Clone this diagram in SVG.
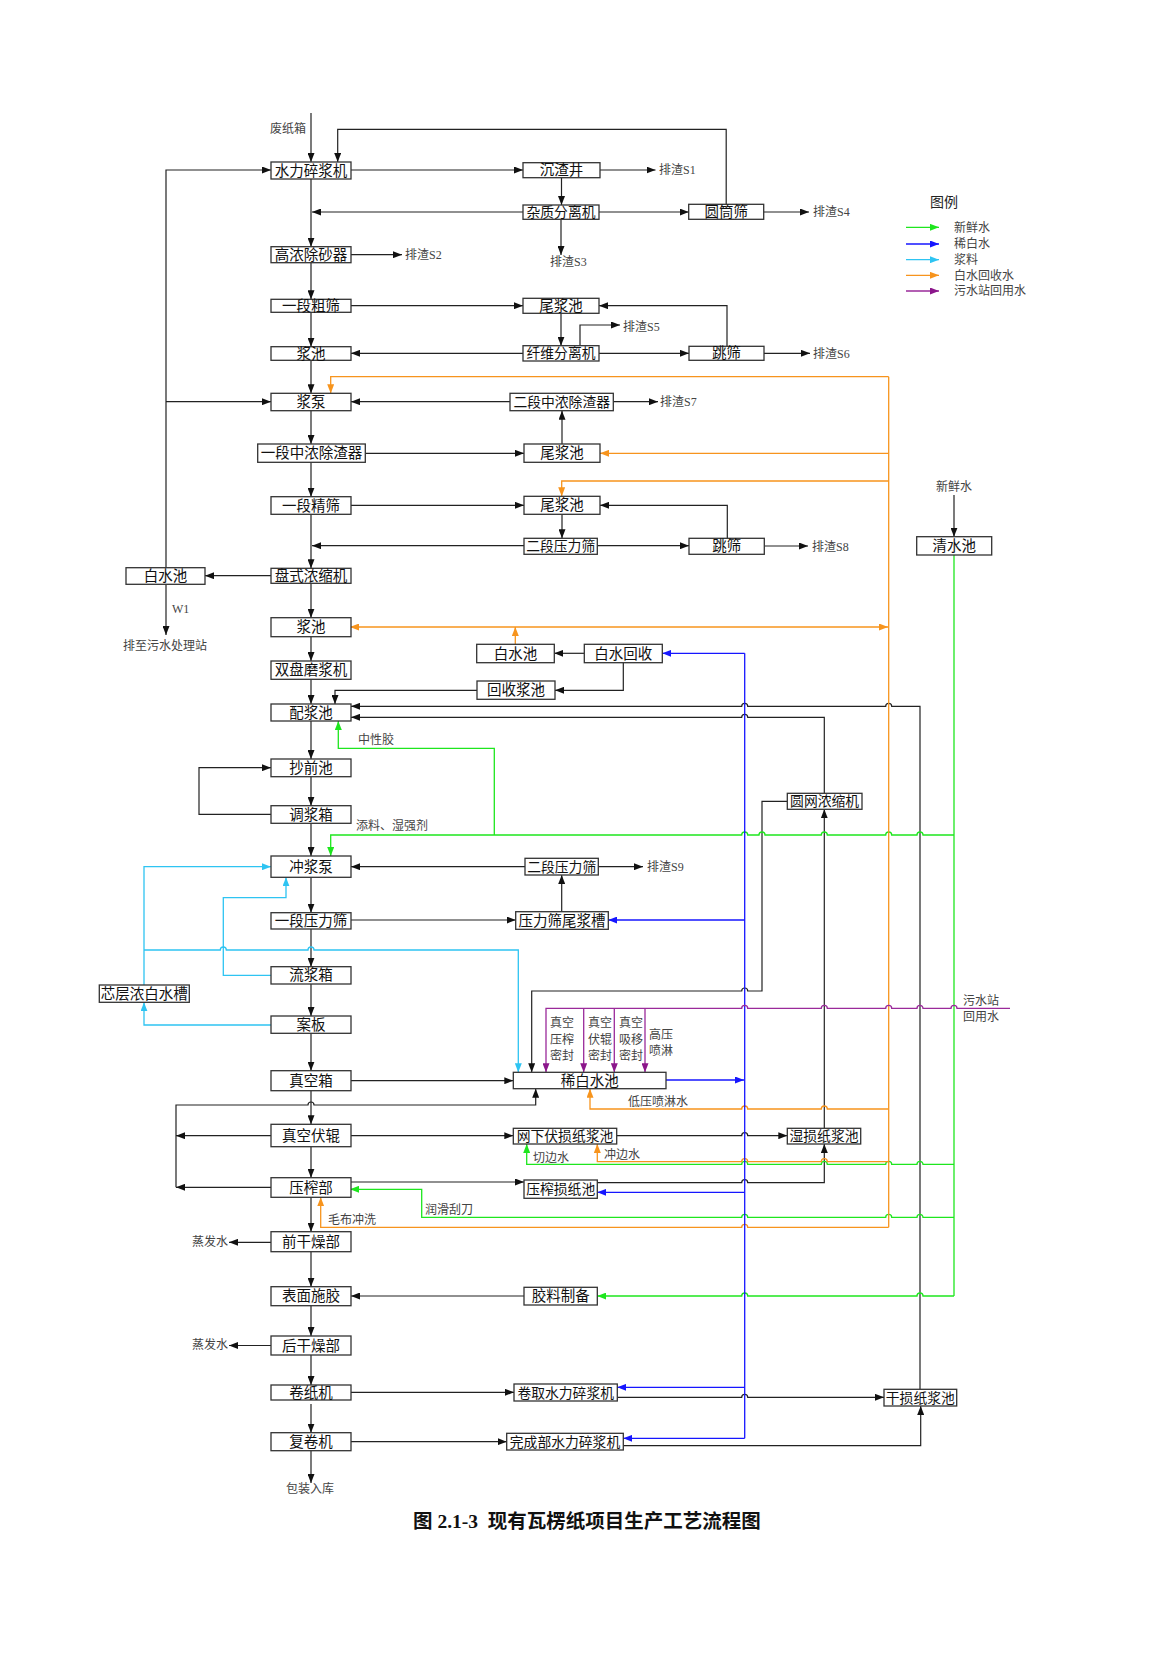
<svg xmlns="http://www.w3.org/2000/svg" width="1169" height="1653" viewBox="0 0 1169 1653">
<style>
.bx{fill:#fff;stroke:#333;stroke-width:1.3}
.t{font-family:"Liberation Serif","Noto Sans CJK SC",serif;font-size:14.5px;fill:#111;text-anchor:middle}
.s{font-size:13.8px}
.l{font-family:"Liberation Serif","Noto Sans CJK SC",serif;font-size:12px;fill:#444}
.k{fill:none;stroke:#222;stroke-width:1.2}
.g{fill:none;stroke:#1ee61e;stroke-width:1.3}
.b{fill:none;stroke:#1616ff;stroke-width:1.3}
.c{fill:none;stroke:#2ec4f2;stroke-width:1.3}
.o{fill:none;stroke:#f7941d;stroke-width:1.3}
.p{fill:none;stroke:#9a2a9a;stroke-width:1.3}
</style>
<defs>
<marker id="ak" viewBox="0 0 9 7" refX="9" refY="3.5" markerWidth="9" markerHeight="7" markerUnits="userSpaceOnUse" orient="auto-start-reverse"><path d="M0,0L9,3.5L0,7z" fill="#111"/></marker>
<marker id="ag" viewBox="0 0 9 7" refX="9" refY="3.5" markerWidth="9" markerHeight="7" markerUnits="userSpaceOnUse" orient="auto-start-reverse"><path d="M0,0L9,3.5L0,7z" fill="#1ee61e"/></marker>
<marker id="ab" viewBox="0 0 9 7" refX="9" refY="3.5" markerWidth="9" markerHeight="7" markerUnits="userSpaceOnUse" orient="auto-start-reverse"><path d="M0,0L9,3.5L0,7z" fill="#1616ff"/></marker>
<marker id="ac" viewBox="0 0 9 7" refX="9" refY="3.5" markerWidth="9" markerHeight="7" markerUnits="userSpaceOnUse" orient="auto-start-reverse"><path d="M0,0L9,3.5L0,7z" fill="#2ec4f2"/></marker>
<marker id="ao" viewBox="0 0 9 7" refX="9" refY="3.5" markerWidth="9" markerHeight="7" markerUnits="userSpaceOnUse" orient="auto-start-reverse"><path d="M0,0L9,3.5L0,7z" fill="#f7941d"/></marker>
<marker id="ap" viewBox="0 0 9 7" refX="9" refY="3.5" markerWidth="9" markerHeight="7" markerUnits="userSpaceOnUse" orient="auto-start-reverse"><path d="M0,0L9,3.5L0,7z" fill="#8b168b"/></marker>
</defs>
<rect width="1169" height="1653" fill="#fff"/>

<g id="connectors">
<g class="k" marker-end="url(#ak)">
<path d="M311,113V162"/><path d="M311,179V246.7"/><path d="M311,262.7V299.3"/><path d="M311,312.3V346.7"/>
<path d="M311,360.3V393.3"/><path d="M311,410.7V444"/><path d="M311,462.3V496.7"/><path d="M311,514.3V568.3"/>
<path d="M311,583.3V617.7"/><path d="M311,636.7V661"/><path d="M311,679.3V704"/><path d="M311,721V759"/>
<path d="M311,776.7V805.7"/><path d="M311,823.3V856"/><path d="M311,877.3V912.7"/><path d="M311,929V966.7"/>
<path d="M311,984V1016"/><path d="M311,1033.3V1070.7"/><path d="M311,1090.7V1124.3"/><path d="M311,1146.7V1177.7"/>
<path d="M311,1197.3V1231.7"/><path d="M311,1251.7V1286.7"/><path d="M311,1305.7V1336"/><path d="M311,1355V1385"/>
<path d="M311,1404V1432.7"/><path d="M311,1450.7V1483"/>
<path d="M726.2,204.3V129.3H337.7V162"/>
<path d="M351,170H523"/>
<path d="M600,170H655.5"/>
<path d="M561.5,177.7V205"/>
<path d="M523,212H312"/>
<path d="M599,212H688.7"/>
<path d="M763.7,212H809"/>
<path d="M561,219.3V255"/>
<path d="M351,254.7H402"/>
<path d="M351,305.7H523"/>
<path d="M727,346.3V305.7H599"/>
<path d="M561,313.3V345.7"/>
<path d="M580,345.7V325H620"/>
<path d="M523,353.3H351"/>
<path d="M599,353.3H689"/>
<path d="M764,353.3H810"/>
<path d="M510,401.7H351"/>
<path d="M613.3,401.7H658"/>
<path d="M365.3,453.3H524"/>
<path d="M562,444V410.7"/>
<path d="M351,505.3H524"/>
<path d="M727.3,538.3V505.3H600"/>
<path d="M562,514.3V538.3"/>
<path d="M524,545.7H312"/>
<path d="M597.3,545.7H689"/>
<path d="M764.3,546H808"/>
<path d="M271,575.7H205"/>
<path d="M166,567.7V170H271"/>
<path d="M166,401.7H271"/>
<path d="M166,584.3V635"/>
<path d="M954,495V536.7"/>
<path d="M584.3,653.3H554.3"/>
<path d="M623.3,662.7V690.3H555"/>
<path d="M477,690.3H335V704"/>
<path d="M920,1389.3V706.3H891.7A3,3 0 0 0 885.7,706.3H747.7A3,3 0 0 0 741.7,706.3H351"/>
<path d="M824.3,793.3V717.3H747.7A3,3 0 0 0 741.7,717.3H351"/>
<path d="M271,814.3H199V767.7H271"/>
<path d="M525,866.7H351"/>
<path d="M598.3,866.7H643"/>
<path d="M561.7,911.7V875"/>
<path d="M351,920H515.7"/>
<path d="M787.3,801.3H762V991H747.7A3,3 0 0 0 741.7,991H531.7V1072.3"/>
<path d="M824.3,1128.3V809.3"/>
<path d="M351,1080.7H513.3"/>
<path d="M271,1135.7H176"/>
<path d="M271,1187.3H176"/>
<path d="M176,1187.3V1105H308A3,3 0 0 1 314,1105H535.7V1088.7"/>
<path d="M351,1135.7H513.3"/>
<path d="M616.7,1135.7H741.7A3,3 0 0 1 747.7,1135.7H787.3"/>
<path d="M351,1182H524"/>
<path d="M597.3,1182.7H741.7A3,3 0 0 1 747.7,1182.7H824.3V1144"/>
<path d="M271,1242.3H229"/>
<path d="M524,1296H351"/>
<path d="M271,1345.5H229"/>
<path d="M351,1392.3H514"/>
<path d="M617.3,1397.3H741.7A3,3 0 0 1 747.7,1397.3H884"/>
<path d="M351,1441.7H506.7"/>
<path d="M623.3,1445.7H920.7V1406"/>
</g>
<g class="c" marker-end="url(#ac)">
<path d="M144,985V866.7H271"/>
<path d="M144,950H220.3A3,3 0 0 1 226.3,950H308A3,3 0 0 1 314,950H518.3V1072.3"/>
<path d="M271,975.3H223.3V897.7H286V877.3"/>
<path d="M271,1025H144V1002.3"/>
</g>
<path class="g" d="M954,555V1296"/>
<g class="g" marker-end="url(#ag)">
<path d="M954,835H923A3,3 0 0 0 917,835H891.7A3,3 0 0 0 885.7,835H827.3A3,3 0 0 0 821.3,835H765A3,3 0 0 0 759,835H747.7A3,3 0 0 0 741.7,835H330.7V856"/>
<path d="M494.3,835V748.3H338.3V721"/>
<path d="M954,1164.3H923A3,3 0 0 0 917,1164.3H891.7A3,3 0 0 0 885.7,1164.3H827.3A3,3 0 0 0 821.3,1164.3H747.7A3,3 0 0 0 741.7,1164.3H526.7V1144"/>
<path d="M954,1217.3H923A3,3 0 0 0 917,1217.3H891.7A3,3 0 0 0 885.7,1217.3H747.7A3,3 0 0 0 741.7,1217.3H421.7V1189.3H350"/>
<path d="M954,1296H923A3,3 0 0 0 917,1296H747.7A3,3 0 0 0 741.7,1296H597.3"/>
</g>
<path class="o" d="M888.7,376.7V1227.3"/>
<g class="o" marker-end="url(#ao)">
<path d="M888.7,376.7H330.7V393.3"/>
<path d="M888.7,453.3H600"/>
<path d="M888.7,481H561.7V496.3"/>
<path d="M350,627H888" marker-start="url(#ao)"/>
<path d="M515.3,644.3V627"/>
<path d="M888.7,1109H827.3A3,3 0 0 0 821.3,1109H747.7A3,3 0 0 0 741.7,1109H590V1088.7"/>
<path d="M888.7,1161.7H827.3A3,3 0 0 0 821.3,1161.7H747.7A3,3 0 0 0 741.7,1161.7H597.3V1144"/>
<path d="M888.7,1227.3H747.7A3,3 0 0 0 741.7,1227.3H320.7V1197.3"/>
</g>
<path class="b" d="M744.7,653.3V1438.3"/>
<g class="b" marker-end="url(#ab)">
<path d="M744.7,653.3H662.3"/>
<path d="M744.7,920H608.3"/>
<path d="M666,1080H744"/>
<path d="M744.7,1192.3H597.3"/>
<path d="M744.7,1387.3H617.3"/>
<path d="M744.7,1438.3H623.3"/>
</g>
<g class="p" marker-end="url(#ap)">
<path d="M1010,1008.3H957A3,3 0 0 0 951,1008.3H923A3,3 0 0 0 917,1008.3H891.7A3,3 0 0 0 885.7,1008.3H827.3A3,3 0 0 0 821.3,1008.3H747.7A3,3 0 0 0 741.7,1008.3H546V1072.3"/>
<path d="M583.7,1008.3V1072.3"/>
<path d="M614.3,1008.3V1072.3"/>
<path d="M645,1008.3V1072.3"/>
</g>
</g>

<g id="n1"><rect class="bx" x="271" y="162" width="80" height="17"/><text class="t" x="311" y="175.5">水力碎浆机</text></g>
<g id="n2"><rect class="bx" x="271" y="246.7" width="80" height="16"/><text class="t" x="311" y="259.7">高浓除砂器</text></g>
<g id="n3"><rect class="bx" x="271" y="299.3" width="80" height="13"/><text class="t" x="311" y="310.8">一段粗筛</text></g>
<g id="n4"><rect class="bx" x="271" y="346.7" width="80" height="13.6"/><text class="t" x="311" y="358.5">浆池</text></g>
<g id="n5"><rect class="bx" x="271" y="393.3" width="80" height="17.4"/><text class="t" x="311" y="407">浆泵</text></g>
<g id="n6"><rect class="bx" x="257.7" y="444" width="107.6" height="18.3"/><text class="t" x="311.5" y="458.2">一段中浓除渣器</text></g>
<g id="n7"><rect class="bx" x="271" y="496.7" width="80" height="17.6"/><text class="t" x="311" y="510.5">一段精筛</text></g>
<g id="n8"><rect class="bx" x="271" y="568.3" width="80" height="15"/><text class="t" x="311" y="580.8">盘式浓缩机</text></g>
<g id="n9"><rect class="bx" x="271" y="617.7" width="80" height="19"/><text class="t" x="311" y="632.2">浆池</text></g>
<g id="n10"><rect class="bx" x="271" y="661" width="80" height="18.3"/><text class="t" x="311" y="675.2">双盘磨浆机</text></g>
<g id="n11"><rect class="bx" x="271" y="704" width="80" height="17"/><text class="t" x="311" y="717.5">配浆池</text></g>
<g id="n12"><rect class="bx" x="271" y="759" width="80" height="17.7"/><text class="t" x="311" y="772.8">抄前池</text></g>
<g id="n13"><rect class="bx" x="271" y="805.7" width="80" height="17.6"/><text class="t" x="311" y="819.5">调浆箱</text></g>
<g id="n14"><rect class="bx" x="271" y="856" width="80" height="21.3"/><text class="t" x="311" y="871.7">冲浆泵</text></g>
<g id="n15"><rect class="bx" x="271" y="912.7" width="80" height="16.3"/><text class="t" x="311" y="925.8">一段压力筛</text></g>
<g id="n16"><rect class="bx" x="271" y="966.7" width="80" height="17.3"/><text class="t" x="311" y="980.3">流浆箱</text></g>
<g id="n17"><rect class="bx" x="271" y="1016" width="80" height="17.3"/><text class="t" x="311" y="1029.7">案板</text></g>
<g id="n18"><rect class="bx" x="271" y="1070.7" width="80" height="20"/><text class="t" x="311" y="1085.7">真空箱</text></g>
<g id="n19"><rect class="bx" x="271" y="1124.3" width="80" height="22.4"/><text class="t" x="311" y="1140.5">真空伏辊</text></g>
<g id="n20"><rect class="bx" x="271" y="1177.7" width="80" height="19.6"/><text class="t" x="311" y="1192.5">压榨部</text></g>
<g id="n21"><rect class="bx" x="271" y="1231.7" width="80" height="20"/><text class="t" x="311" y="1246.7">前干燥部</text></g>
<g id="n22"><rect class="bx" x="271" y="1286.7" width="80" height="19"/><text class="t" x="311" y="1301.2">表面施胶</text></g>
<g id="n23"><rect class="bx" x="271" y="1336" width="80" height="19"/><text class="t" x="311" y="1350.5">后干燥部</text></g>
<g id="n24"><rect class="bx" x="271" y="1385" width="80" height="15"/><text class="t" x="311" y="1397.5">卷纸机</text></g>
<g id="n25"><rect class="bx" x="271" y="1432.7" width="80" height="18"/><text class="t" x="311" y="1446.7">复卷机</text></g>

<g id="n26"><rect class="bx" x="523" y="162.7" width="77" height="15"/><text class="t" x="561.5" y="175.2">沉渣井</text></g>
<g id="n27"><rect class="bx" x="523" y="205" width="76" height="14.3"/><text class="t s" x="561" y="217.2">杂质分离机</text></g>
<g id="n28"><rect class="bx" x="688.7" y="204.3" width="75" height="15"/><text class="t" x="726.2" y="216.8">圆筒筛</text></g>
<g id="n29"><rect class="bx" x="523" y="298.3" width="76" height="15"/><text class="t" x="561" y="310.8">尾浆池</text></g>
<g id="n30"><rect class="bx" x="523" y="345.7" width="76" height="15.3"/><text class="t s" x="561" y="358.3">纤维分离机</text></g>
<g id="n31"><rect class="bx" x="689" y="346.3" width="75" height="14"/><text class="t" x="726.5" y="358.3">跳筛</text></g>
<g id="n32"><rect class="bx" x="510" y="393.3" width="103.3" height="17.4"/><text class="t s" x="561.7" y="407">二段中浓除渣器</text></g>
<g id="n33"><rect class="bx" x="524" y="444" width="76" height="18.3"/><text class="t" x="562" y="458.2">尾浆池</text></g>
<g id="n34"><rect class="bx" x="524" y="496.3" width="76" height="18"/><text class="t" x="562" y="510.3">尾浆池</text></g>
<g id="n35"><rect class="bx" x="524" y="538.3" width="73.3" height="16"/><text class="t s" x="560.7" y="551.3">二段压力筛</text></g>
<g id="n36"><rect class="bx" x="689" y="538.3" width="75.3" height="16"/><text class="t" x="726.7" y="551.3">跳筛</text></g>
<g id="n37"><rect class="bx" x="916.7" y="536.7" width="75" height="18.3"/><text class="t" x="954.2" y="550.9">清水池</text></g>
<g id="n38"><rect class="bx" x="126" y="567.7" width="79" height="16.6"/><text class="t" x="165.5" y="581">白水池</text></g>
<g id="n39"><rect class="bx" x="476.7" y="644.3" width="77.6" height="18.4"/><text class="t" x="515.5" y="658.5">白水池</text></g>
<g id="n40"><rect class="bx" x="584.3" y="644.3" width="78" height="18.4"/><text class="t" x="623.3" y="658.5">白水回收</text></g>
<g id="n41"><rect class="bx" x="477" y="681" width="78" height="18.3"/><text class="t" x="516" y="695.2">回收浆池</text></g>
<g id="n42"><rect class="bx" x="787.3" y="793.3" width="74.7" height="16"/><text class="t s" x="824.6" y="806.3">圆网浓缩机</text></g>
<g id="n43"><rect class="bx" x="525" y="858.3" width="73.3" height="16.7"/><text class="t s" x="561.7" y="871.7">二段压力筛</text></g>
<g id="n44"><rect class="bx" x="515.7" y="911.7" width="92.6" height="17.6"/><text class="t" x="562" y="925.5">压力筛尾浆槽</text></g>
<g id="n45"><rect class="bx" x="99.3" y="985" width="90" height="17.3"/><text class="t" x="144.3" y="998.7">芯层浓白水槽</text></g>
<g id="n46"><rect class="bx" x="513.3" y="1072.3" width="152.7" height="16.4"/><text class="t" x="589.7" y="1085.5">稀白水池</text></g>
<g id="n47"><rect class="bx" x="513.3" y="1128.3" width="103.4" height="15.7"/><text class="t s" x="565" y="1141.2">网下伏损纸浆池</text></g>
<g id="n48"><rect class="bx" x="787.3" y="1128.3" width="73.4" height="15.7"/><text class="t s" x="824" y="1141.2">湿损纸浆池</text></g>
<g id="n49"><rect class="bx" x="524" y="1180" width="73.3" height="18.3"/><text class="t s" x="560.7" y="1194.2">压榨损纸池</text></g>
<g id="n50"><rect class="bx" x="524" y="1287.3" width="73.3" height="17.7"/><text class="t" x="560.7" y="1301.2">胶料制备</text></g>
<g id="n51"><rect class="bx" x="514" y="1384" width="103.3" height="17"/><text class="t s" x="565.7" y="1397.5">卷取水力碎浆机</text></g>
<g id="n52"><rect class="bx" x="506.7" y="1433.3" width="116.6" height="16.7"/><text class="t s" x="565" y="1446.7">完成部水力碎浆机</text></g>
<g id="n53"><rect class="bx" x="884" y="1389.3" width="72.7" height="16.7"/><text class="t s" x="920.3" y="1402.7">干损纸浆池</text></g>

<g id="labels">
<text class="l" x="270" y="133">废纸箱</text>
<text class="l" x="659" y="174">排渣S1</text>
<text class="l" x="813" y="216">排渣S4</text>
<text class="l" x="550" y="266">排渣S3</text>
<text class="l" x="405" y="259">排渣S2</text>
<text class="l" x="623" y="331">排渣S5</text>
<text class="l" x="813" y="358">排渣S6</text>
<text class="l" x="660" y="406">排渣S7</text>
<text class="l" x="812" y="551">排渣S8</text>
<text class="l" x="936" y="491">新鲜水</text>
<text class="l" x="172" y="613">W1</text>
<text class="l" x="123" y="650">排至污水处理站</text>
<text class="l" x="358" y="744">中性胶</text>
<text class="l" x="356" y="830">添料、湿强剂</text>
<text class="l" x="647" y="871">排渣S9</text>
<text class="l" x="963" y="1005">污水站</text>
<text class="l" x="963" y="1021">回用水</text>
<text class="l" x="550" y="1027">真空</text><text class="l" x="550" y="1044">压榨</text><text class="l" x="550" y="1060">密封</text>
<text class="l" x="588" y="1027">真空</text><text class="l" x="588" y="1044">伏辊</text><text class="l" x="588" y="1060">密封</text>
<text class="l" x="619" y="1027">真空</text><text class="l" x="619" y="1044">吸移</text><text class="l" x="619" y="1060">密封</text>
<text class="l" x="649" y="1039">高压</text><text class="l" x="649" y="1055">喷淋</text>
<text class="l" x="628" y="1106">低压喷淋水</text>
<text class="l" x="533" y="1162">切边水</text>
<text class="l" x="604" y="1159">冲边水</text>
<text class="l" x="425" y="1214">润滑刮刀</text>
<text class="l" x="328" y="1224">毛布冲洗</text>
<text class="l" x="192" y="1246">蒸发水</text>
<text class="l" x="192" y="1349">蒸发水</text>
<text class="l" x="286" y="1493">包装入库</text>
</g>

<g id="legend">
<text x="930" y="207" style="font-family:'Noto Sans CJK SC',sans-serif;font-size:14px;fill:#222">图例</text>
<path class="g" d="M906,227.3H939" marker-end="url(#ag)"/>
<path class="b" d="M906,244H939" marker-end="url(#ab)"/>
<path class="c" d="M906,259.7H939" marker-end="url(#ac)"/>
<path class="o" d="M906,275.3H939" marker-end="url(#ao)"/>
<path class="p" d="M906,291H939" marker-end="url(#ap)"/>
<text class="l" x="954" y="231.5">新鲜水</text>
<text class="l" x="954" y="248">稀白水</text>
<text class="l" x="954" y="264">浆料</text>
<text class="l" x="954" y="279.5">白水回收水</text>
<text class="l" x="954" y="295">污水站回用水</text>
</g>

<text id="title" x="413" y="1528" xml:space="preserve" style="font-family:'Liberation Serif','Noto Sans CJK SC',serif;font-size:19.5px;font-weight:bold;fill:#111;white-space:pre">图 2.1-3  现有瓦楞纸项目生产工艺流程图</text>
</svg>
